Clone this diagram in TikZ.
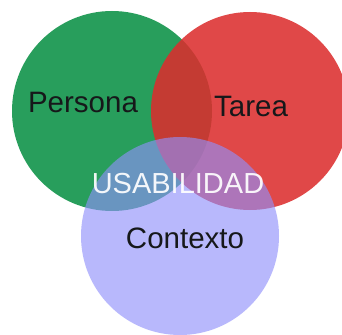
\documentclass[tikz,border=0pt]{standalone}
\usepackage{fontspec}
\setmainfont{Liberation Sans}
\definecolor{vgreen}{RGB}{40,158,92}
\definecolor{vred}{RGB}{220,45,45}
\definecolor{vblue}{RGB}{144,144,251}
\definecolor{vtext}{RGB}{22,24,26}
\begin{document}
\begin{tikzpicture}[x=1pt,y=-1pt,
  setcircle/.style={circle, inner sep=0pt, minimum size=#1, draw=none},
  label/.style={anchor=base, inner sep=0pt, font=\fontsize{29.5}{31}\selectfont, text=vtext},
  biglabel/.style={anchor=base, inner sep=0pt, font=\fontsize{29}{31}\selectfont, text=white, text opacity=0.92}]
  \useasboundingbox (0,0) rectangle (342,334);
  \fill[white] (0,0) rectangle (342,334);
  \node[setcircle=200pt, fill=vgreen] (persona) at (112,111) {};
  \node[setcircle=198pt, fill=vred, fill opacity=0.87] (tarea) at (250,111) {};
  \node[setcircle=198pt, fill=vblue, fill opacity=0.63] (contexto) at (180,236) {};
  \node[label] (tpersona) at (83,113) {Persona};
  \node[label] (ttarea) at (251,117) {Tarea};
  \node[label] (tcontexto) at (185,248) {Contexto};
  \node[biglabel] (tusab) at (178,193) {USABILIDAD};
\end{tikzpicture}
\end{document}
